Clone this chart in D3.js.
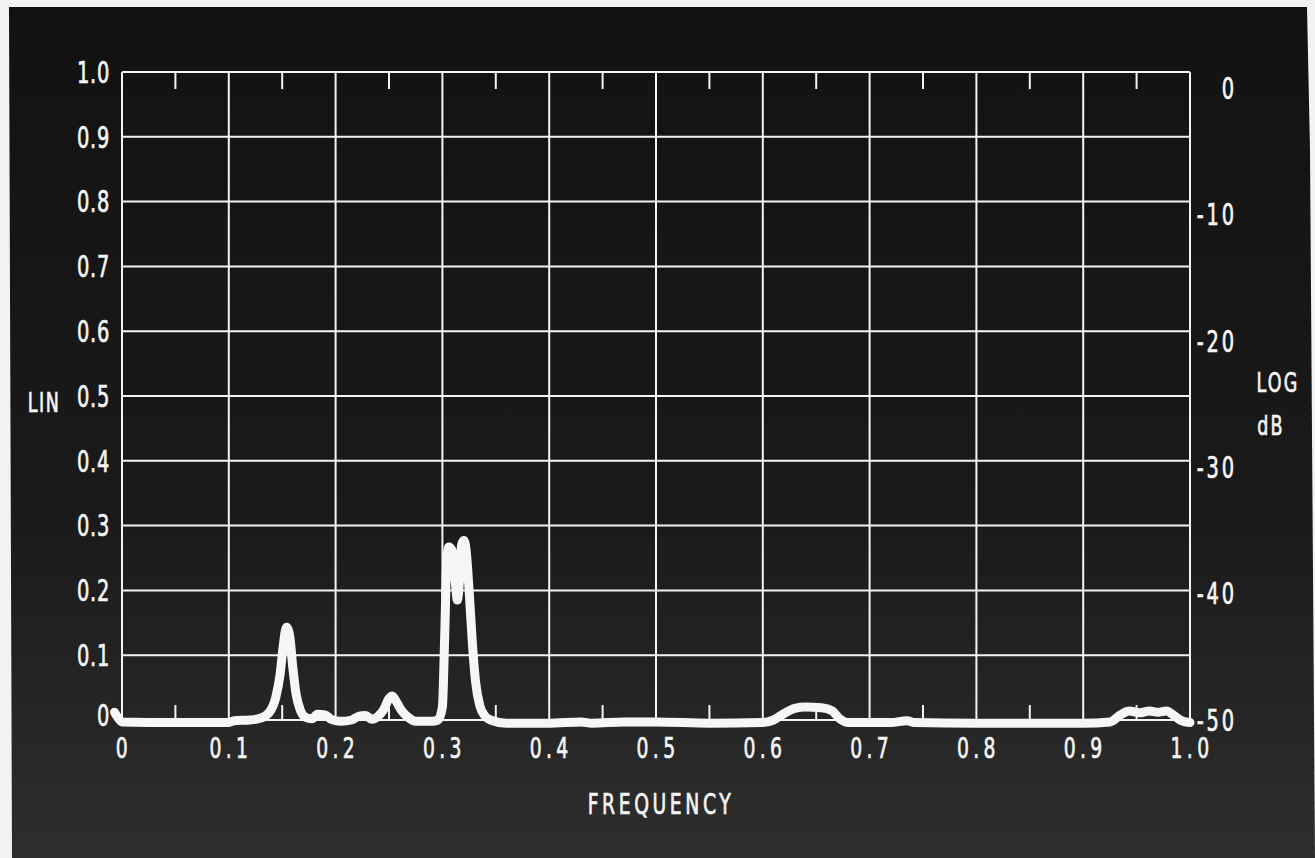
<!DOCTYPE html>
<html>
<head>
<meta charset="utf-8">
<script src="https://cdn.jsdelivr.net/npm/d3@7"></script>
<style>
  body { margin: 0; background: #fff; overflow: hidden; }
  text { fill: #f4f4f4; stroke: #f4f4f4; stroke-width: 0.7px; font-family: "DejaVu Sans Condensed", "DejaVu Sans", sans-serif; }
</style>
</head>
<body>
<div id="chart"></div>
<script>
// chart data
var linTicks = [0, 0.1, 0.2, 0.3, 0.4, 0.5, 0.6, 0.7, 0.8, 0.9, 1.0];
var linLabels = ["0", "0.1", "0.2", "0.3", "0.4", "0.5", "0.6", "0.7", "0.8", "0.9", "1.0"];
var freqTicks = [0, 0.1, 0.2, 0.3, 0.4, 0.5, 0.6, 0.7, 0.8, 0.9, 1.0];
var freqLabels = ["0", "0.1", "0.2", "0.3", "0.4", "0.5", "0.6", "0.7", "0.8", "0.9", "1.0"];
var minorTicks = [0.05, 0.15, 0.25, 0.35, 0.45, 0.55, 0.65, 0.75, 0.85, 0.95];
var dbTicks = [0, -10, -20, -30, -40, -50];
var dbLabels = ["0", "-10", "-20", "-30", "-40", "-50"];

var traceFreq = [-0.007, -0.004, 0.000, 0.05, 0.10, 0.105, 0.12, 0.13, 0.138, 0.144, 0.148, 0.151, 0.154, 0.157, 0.160, 0.163, 0.167, 0.172, 0.178, 0.183, 0.19, 0.196, 0.205, 0.215, 0.222, 0.228, 0.234, 0.240, 0.245, 0.250, 0.253, 0.257, 0.262, 0.268, 0.275, 0.29, 0.296, 0.300, 0.302, 0.304, 0.306, 0.309, 0.312, 0.314, 0.316, 0.318, 0.320, 0.322, 0.325, 0.328, 0.331, 0.335, 0.34, 0.345, 0.36, 0.40, 0.43, 0.44, 0.47, 0.50, 0.55, 0.60, 0.61, 0.62, 0.63, 0.64, 0.655, 0.665, 0.672, 0.68, 0.72, 0.735, 0.742, 0.80, 0.90, 0.925, 0.935, 0.943, 0.953, 0.962, 0.970, 0.978, 0.985, 0.992, 1.0];
var traceLin = [0.012, 0.004, -0.003, -0.004, -0.004, -0.001, 0.000, 0.003, 0.012, 0.035, 0.07, 0.115, 0.143, 0.13, 0.08, 0.04, 0.015, 0.004, 0.002, 0.009, 0.008, 0.001, -0.002, 0.0, 0.006, 0.007, 0.001, 0.006, 0.016, 0.033, 0.037, 0.028, 0.014, 0.004, -0.002, -0.002, 0.0, 0.02, 0.12, 0.24, 0.267, 0.262, 0.215, 0.185, 0.215, 0.27, 0.277, 0.265, 0.2, 0.12, 0.06, 0.022, 0.006, 0.0, -0.005, -0.005, -0.003, -0.005, -0.003, -0.003, -0.005, -0.004, 0.0, 0.01, 0.018, 0.02, 0.019, 0.014, 0.002, -0.004, -0.004, -0.001, -0.004, -0.005, -0.005, -0.003, 0.008, 0.014, 0.011, 0.014, 0.012, 0.014, 0.007, -0.001, -0.004];

var svg_width = 1315;
var svg_height = 858;
var margin = { top: 72, right: 125, bottom: 138, left: 122 };
var width = svg_width - margin.left - margin.right;
var height = svg_height - margin.top - margin.bottom;

var svg = d3.select("#chart").append("svg")
  .attr("width", svg_width)
  .attr("height", svg_height);

// photo background: white paper edge and dark screen
svg.append("rect").attr("width", svg_width).attr("height", svg_height).attr("fill", "#f2f2f2");
var grad = svg.append("defs").append("linearGradient")
  .attr("id", "bg").attr("x1", 0).attr("y1", 0).attr("x2", 0).attr("y2", 1);
grad.append("stop").attr("offset", "0%").attr("stop-color", "#121212");
grad.append("stop").attr("offset", "60%").attr("stop-color", "#1a1a1a");
grad.append("stop").attr("offset", "100%").attr("stop-color", "#2e2e2e");
svg.append("path")
  .attr("d", "M9,7 L1307,7 L1310,150 L1315,858 L12,858 Z")
  .attr("fill", "url(#bg)");

var chartGroup = svg.append("g")
  .attr("transform", `translate(${margin.left}, ${margin.top})`);

var x = d3.scaleLinear().domain([0, 1]).range([0, width]);
var y = d3.scaleLinear().domain([0, 1]).range([height, 0]);
var yDb = d3.scaleLinear().domain([-50, 0]).range([height, 16]);

var gridColor = "#f4f4f4";

// narrow lettering like the scope screen: squeeze text horizontally
function label(g, px, py, anchor, str, size, spacing) {
  g.append("text")
    .attr("transform", `translate(${px}, ${py}) scale(0.72, 1)`)
    .attr("dy", "0.36em")
    .attr("text-anchor", anchor)
    .attr("font-size", size)
    .attr("letter-spacing", spacing)
    .text(str);
}

// grid
chartGroup.selectAll(".hgrid").data(linTicks).enter().append("line")
  .attr("x1", 0).attr("x2", width)
  .attr("y1", d => y(d)).attr("y2", d => y(d))
  .attr("stroke", gridColor).attr("stroke-width", 2);

chartGroup.selectAll(".vgrid").data(freqTicks).enter().append("line")
  .attr("x1", d => x(d)).attr("x2", d => x(d))
  .attr("y1", 0).attr("y2", height)
  .attr("stroke", gridColor).attr("stroke-width", 2);

// half-step ticks top and bottom
chartGroup.selectAll(".ttop").data(minorTicks).enter().append("line")
  .attr("x1", d => x(d)).attr("x2", d => x(d))
  .attr("y1", 0).attr("y2", 17)
  .attr("stroke", gridColor).attr("stroke-width", 2);
chartGroup.selectAll(".tbot").data(minorTicks).enter().append("line")
  .attr("x1", d => x(d)).attr("x2", d => x(d))
  .attr("y1", height).attr("y2", height - 15)
  .attr("stroke", gridColor).attr("stroke-width", 2);

// left LIN labels
linTicks.forEach(function(d, i) {
  label(chartGroup, -12, d === 0 ? y(d) - 5 : y(d), "end", linLabels[i], 30, 1);
});

// right dB labels
dbTicks.forEach(function(d, i) {
  label(chartGroup, width + 47, yDb(d), "end", dbLabels[i], 30, 4);
});

// bottom frequency labels
freqTicks.forEach(function(d, i) {
  label(chartGroup, x(d) + 2, height + 28, "middle", freqLabels[i], 29, 6);
});

// axis titles
label(svg, 44, 402, "middle", "LIN", 27, 2);
label(svg, 1278, 382, "middle", "LOG", 27, 3);
label(svg, 1271, 425, "middle", "dB", 27, 3);
label(svg, 661, 804, "middle", "FREQUENCY", 29, 5);

// spectrum trace
var traceData = traceFreq.map((f, i) => ({ f: f, v: traceLin[i] }));
var line = d3.line()
  .x(d => x(d.f))
  .y(d => y(d.v))
  .curve(d3.curveMonotoneX);

chartGroup.append("path")
  .datum(traceData)
  .attr("d", line)
  .attr("fill", "none")
  .attr("stroke", "#f6f6f6")
  .attr("stroke-width", 9)
  .attr("stroke-linejoin", "round")
  .attr("stroke-linecap", "round");
</script>
</body>
</html>
